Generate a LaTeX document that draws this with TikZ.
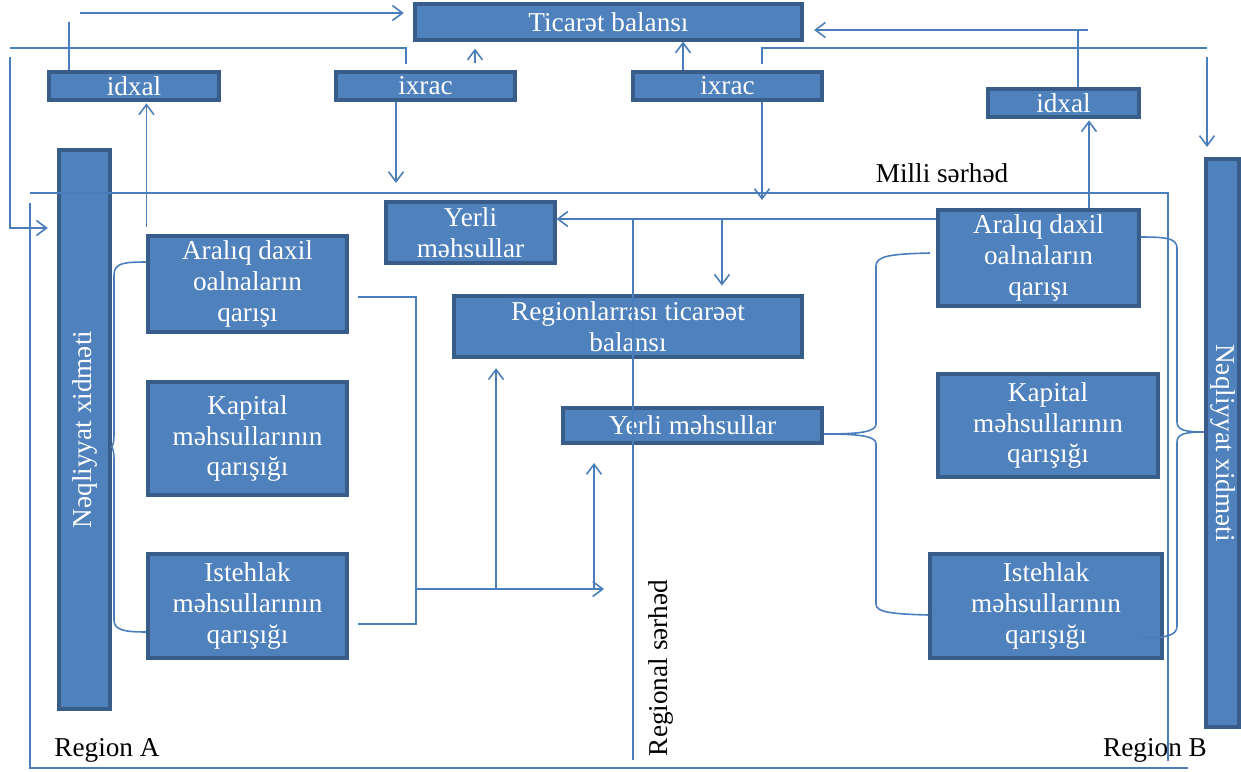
\documentclass[tikz,border=0pt]{standalone}
\usepackage{graphicx}
\usepackage{fontspec}
\setmainfont{Liberation Serif}
\usepackage{tikz}
\usetikzlibrary{arrows.meta,positioning}
\tikzset{
  bbox/.style={rectangle, draw=boxedge, fill=boxblue, line width=1.8pt, inner sep=0pt, text=white, align=center, font=\fontsize{15.5}{17.5}\selectfont},
  ltext/.style={font=\fontsize{15.5}{17.5}\selectfont, inner sep=0pt},
  link/.style={linkblue, line width=0.9pt},
  larrow/.style={link, -{Straight Barb[length=2mm,width=3mm]}}
}
\definecolor{boxblue}{RGB}{79,129,189}
\definecolor{boxedge}{RGB}{56,93,138}
\definecolor{linkblue}{RGB}{74,126,187}

\begin{document}
\begin{tikzpicture}[x=0.02cm, y=-0.02cm]
\useasboundingbox (0,0) rectangle (1241,771);
% top row
\node[bbox, minimum width=7.74cm, minimum height=0.72cm] (tb) at (608.5,22) {Ticarət balansı};
\node[bbox, minimum width=3.4cm, minimum height=0.56cm] (iL) at (134,86) {idxal};
\node[bbox, minimum width=3.58cm, minimum height=0.56cm] (xL) at (425.5,86) {ixrac};
\node[bbox, minimum width=3.78cm, minimum height=0.56cm] (xR) at (727.5,86) {ixrac};
\node[bbox, minimum width=3.02cm, minimum height=0.56cm] (iR) at (1063.5,103) {idxal};
% transport bars
\node[bbox, minimum width=1.02cm, minimum height=11.18cm] (bL) at (84.5,429.5) {\rotatebox{90}{Nəqliyyat xidməti}};
\node[bbox, minimum width=0.66cm, minimum height=11.36cm] (bR) at (1222.5,443) {\rotatebox{-90}{Nəqliyyat xidməti}};
% region A
\node[bbox, minimum width=3.98cm, minimum height=1.92cm] (aL) at (247.5,284) {Aralıq daxil\\oalnaların\\qarışı};
\node[bbox, minimum width=3.98cm, minimum height=2.26cm] (kL) at (247.5,438.5) {Kapital\\məhsullarının\\qarışığı};
\node[bbox, minimum width=3.98cm, minimum height=2.08cm] (sL) at (247.5,606) {Istehlak\\məhsullarının\\qarışığı};
% middle
\node[bbox, minimum width=3.38cm, minimum height=1.22cm] (yT) at (470.5,232.5) {Yerli\\məhsullar};
\node[bbox, minimum width=6.96cm, minimum height=1.22cm] (rb) at (628,326.5) {Regionlarrası ticarəət\\balansı};
\node[bbox, minimum width=5.18cm, minimum height=0.7cm] (yS) at (692.5,425.5) {Yerli məhsullar};
% region B
\node[bbox, minimum width=4.02cm, minimum height=1.92cm] (aR) at (1038.5,258) {Aralıq daxil\\oalnaların\\qarışı};
\node[bbox, minimum width=4.4cm, minimum height=2.06cm] (kR) at (1048,425.5) {Kapital\\məhsullarının\\qarışığı};
\node[bbox, minimum width=4.64cm, minimum height=2.08cm] (sR) at (1046,606) {Istehlak\\məhsullarının\\qarışığı};
% labels
\node[ltext] (milli) at (942,173) {Milli sərhəd};
\node[ltext, rotate=90] (regsh) at (661,668) {Regional sərhəd};
\node[ltext] (regA) at (107,750) {Region A};
\node[ltext] (regB) at (1155,750) {Region B};

% borders
\draw[link] (30,193) -| (1168,761);
\draw[link] (30,203) |- (1188,768);
\draw[link] (633,219) -- (633,760);

% top connections
\coordinate (p1) at (69,22);
\draw[link] (iL.north -| p1) -- (p1);
\coordinate (p2) at (80,13);
\draw[larrow, shorten >=5.5pt] (p2) -- (p2 -| tb.west);
\coordinate (p3) at (406,64);
\coordinate (p4) at (10,48);
\draw[link] (p3) |- (p4);
\coordinate (p5) at (10,57);
\coordinate (p6) at (0,228);
\draw[larrow, shorten >=5.5pt] (p5) |- (p6 -| bL.west);
\coordinate (p7) at (475,0);
\draw[larrow, shorten <=4pt, shorten >=4pt] (xL.north -| p7) -- (tb.south -| p7);
\coordinate (p8) at (683,0);
\draw[larrow] (xR.north -| p8) -- (tb.south -| p8);
\coordinate (p9) at (762,64);
\coordinate (p10) at (1207,48);
\draw[link] (p9) |- (p10);
\coordinate (p11) at (1207,57);
\draw[larrow, shorten >=6pt] (p11) -- (p11 |- bR.north);
\coordinate (p12) at (1078,30);
\draw[link] (iR.north -| p12) -- (p12);
\coordinate (p13) at (1088,30);
\draw[larrow, shorten >=6pt] (p13) -- (p13 -| tb.east);
\coordinate (p14) at (1089,0);
\draw[larrow, shorten >=1pt] (aR.north -| p14) -- (iR.south -| p14);
\draw[larrow, shorten <=4.5pt, shorten >=1pt] (aL.north west) -- (aL.north west |- iL.south);
\coordinate (p16) at (396,183);
\draw[larrow] (xL.south -| p16) -- (p16);
\coordinate (p17) at (762,200);
\draw[larrow] (xR.south -| p17) -- (p17);

% middle connections
\coordinate (p18) at (0,219);
\draw[larrow] (aR.west |- p18) -- (yT.east |- p18);
\coordinate (p19) at (722,219);
\draw[larrow, shorten >=5pt] (p19) -- (p19 |- rb.north);
\coordinate (m1) at (416,589);
\coordinate (p20) at (0,297);
\coordinate (p21) at (0,624);
\draw[link, shorten <=5.5pt, shorten >=5.5pt] (aL.east |- p20) -| (p21 -| m1) -- (sL.east |- p21);
\coordinate (p22) at (604,589);
\draw[larrow] (m1) -- (p22);
\coordinate (m2) at (496,589);
\draw[larrow, shorten >=5.5pt] (m2) -- (m2 |- rb.south);
\coordinate (m3) at (594,589);
\draw[larrow, shorten >=10.5pt] (m3) -- (m3 |- yS.south);

% brackets
\draw[link] ([yshift=0.44cm]aL.west) .. controls (124,262) and (114,263) .. (114,275) -- (114,435)
  .. controls (114,444) and (112,447) .. (bL.east |- 0,447)
  .. controls (112,447) and (114,450) .. (114,459) -- (114,620)
  .. controls (114,630) and (124,632) .. ([yshift=-0.52cm]sL.west);
\draw[link] (930,253) .. controls (890,254) and (876,256) .. (876,266) -- (876,424)
  .. controls (876,432) and (860,434) .. (yS.east |- 0,434)
  .. controls (860,434) and (876,436) .. (876,444) -- (876,604)
  .. controls (876,612) and (890,614) .. (sR.west |- 0,615);
\draw[link] (aR.east |- 0,237) .. controls (1165,237) and (1177,238) .. (1177,248) -- (1177,422)
  .. controls (1177,430) and (1185,432) .. (bR.west |- 0,432)
  .. controls (1185,432) and (1177,434) .. (1177,442) -- (1177,626)
  .. controls (1177,636) and (1165,638) .. (1140,638);
\end{tikzpicture}
\end{document}
